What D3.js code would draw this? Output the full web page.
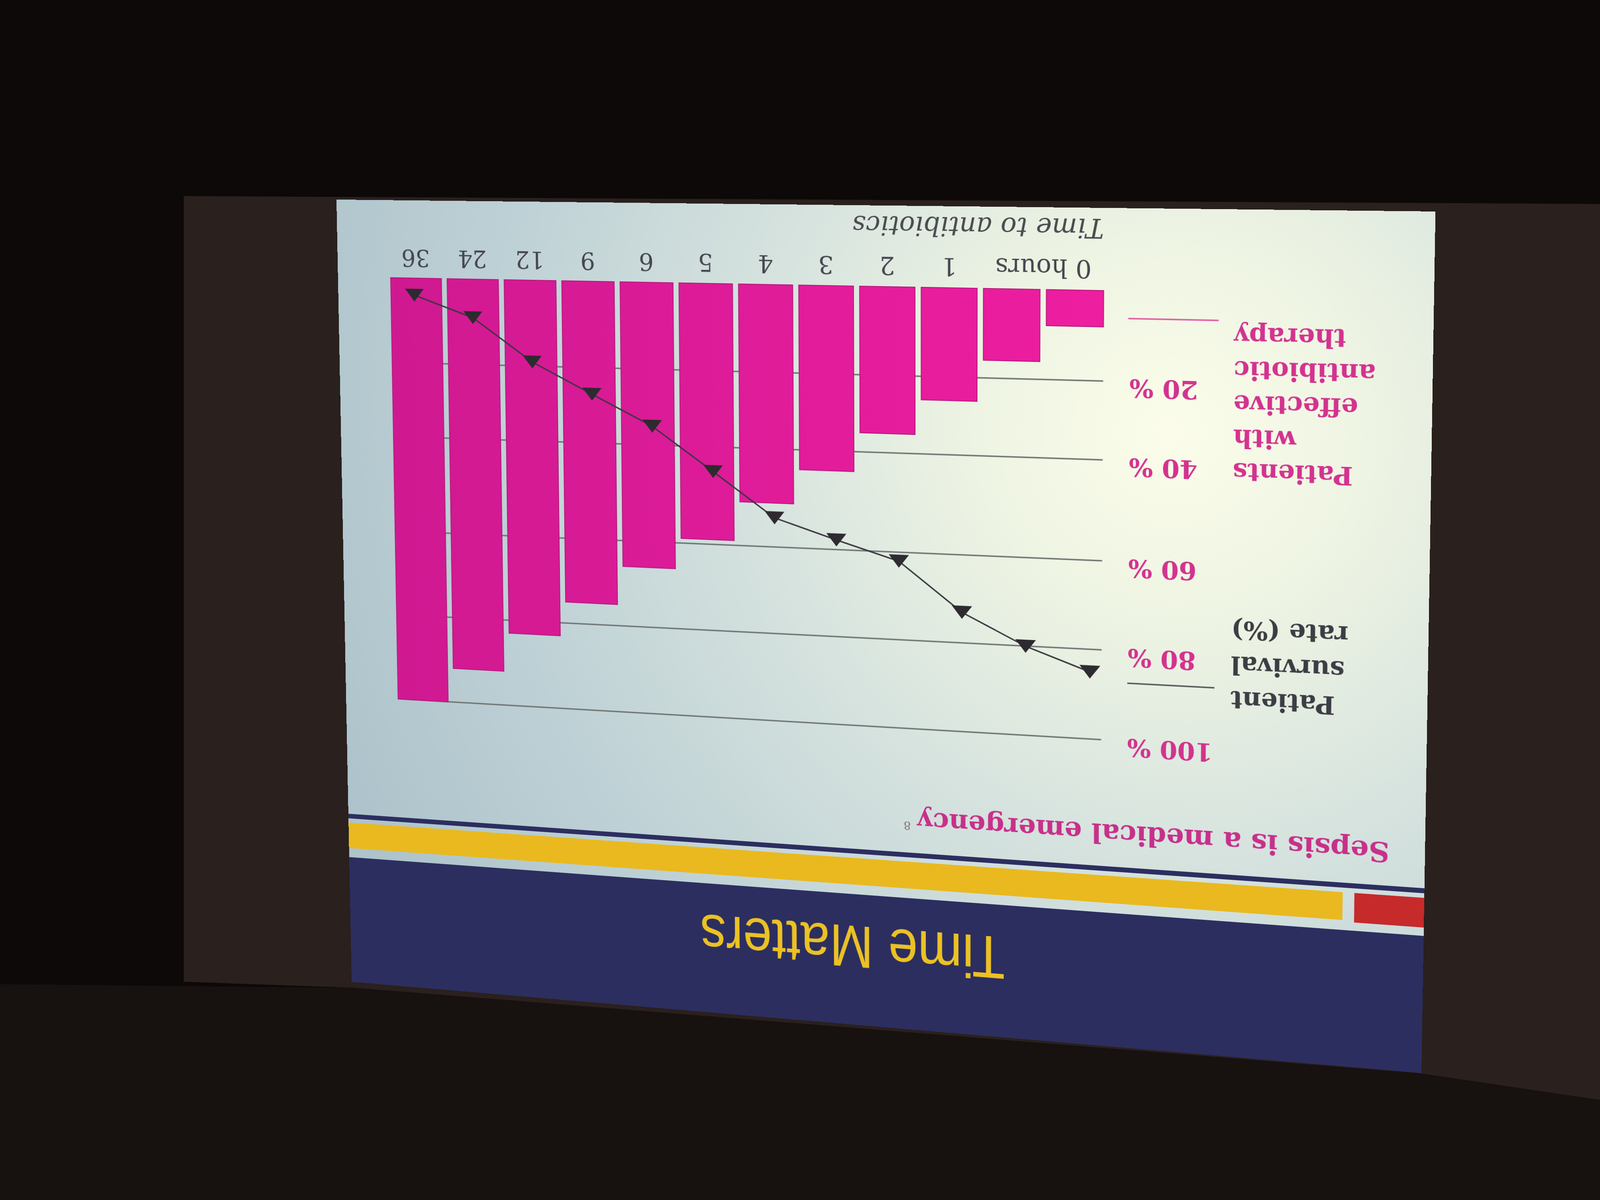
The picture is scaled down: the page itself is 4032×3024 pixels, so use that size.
<!DOCTYPE html>
<html>
<head>
<meta charset="utf-8">
<script src="https://cdn.jsdelivr.net/npm/d3@7"></script>
<style>
html,body{margin:0;padding:0;background:#0d0a09;width:4032px;height:3024px;overflow:hidden;}
#bg{position:absolute;left:0;top:0;}
#slideWrap{position:absolute;left:0;top:0;width:2700px;height:2025px;transform-origin:0 0;}
#slide{display:block;}
</style>
</head>
<body>
<svg id="bg" width="4032" height="3024"></svg>
<div id="slideWrap"><svg id="slide" width="2700" height="2025"></svg></div>
<script>
// ---------- data ----------
const timeBins = ["0-0.5", "0.5-1", "1-2", "2-3", "3-4", "4-5", "5-6", "6-9", "9-12", "12-24", "24-36", ">36"];
const tickLabels = ["0 hours", "", "1", "2", "3", "4", "5", "6", "9", "12", "24", "36"];
const effectiveTherapyPct = [8, 16, 26, 35, 44, 51, 59, 66, 75, 83, 92, 100];
const survivalPct = [85, 80, 73, 62, 58, 54, 45, 35, 27, 19, 9, 4];
const yTicks = [20, 40, 60, 80, 100];
const titleText = "Time Matters";
const subtitleText = "Sepsis is a medical emergency";
const subtitleRef = "8";
const xAxisTitle = "Time to antibiotics";
const therapyLegend = ["Patients", "with", "effective", "antibiotic", "therapy"];
const survivalLegend = ["Patient", "survival", "rate (%)"];

// ---------- photo surroundings ----------
const bg = d3.select("#bg");
bg.append("rect").attr("width", 4032).attr("height", 3024).attr("fill", "#0c0908");
bg.append("polygon")
  .attr("points", "463,494 4032,514 4032,2772 3579,2705 887,2489 463,2474")
  .attr("fill", "#2a201d");
bg.append("polygon")
  .attr("points", "0,2480 887,2489 3579,2705 4032,2772 4032,3024 0,3024")
  .attr("fill", "#171110");

// ---------- slide (drawn upright, then projected upside down) ----------
const W = 2700, H = 2025;
function quadMatrix(W, H, p) {
  const [x0, y0] = p[0], [x1, y1] = p[1], [x2, y2] = p[2], [x3, y3] = p[3];
  const dx1 = x1 - x2, dx2 = x3 - x2, dx3 = x0 - x1 + x2 - x3;
  const dy1 = y1 - y2, dy2 = y3 - y2, dy3 = y0 - y1 + y2 - y3;
  const den = dx1 * dy2 - dx2 * dy1;
  const g = (dx3 * dy2 - dx2 * dy3) / den, h = (dx1 * dy3 - dx3 * dy1) / den;
  const a = x1 - x0 + g * x1, c = x3 - x0 + h * x3, e = x0;
  const b = y1 - y0 + g * y1, d = y3 - y0 + h * y3, f = y0;
  return [a / W, b / W, 0, g / W, c / H, d / H, 0, h / H, 0, 0, 1, 0, e, f, 0, 1];
}
const corners = [[3582, 2704], [886, 2474], [848, 503], [3618, 533]];
d3.select("#slideWrap").style("transform", "matrix3d(" + quadMatrix(W, H, corners).join(",") + ")");

const S = d3.select("#slide");
const defs = S.append("defs");
const rg = defs.append("radialGradient").attr("id", "glow")
  .attr("gradientUnits", "userSpaceOnUse").attr("cx", 600).attr("cy", 1500).attr("r", 2300);
[[0, "#fbfde9"], [0.2, "#eef4e3"], [0.45, "#d5e2de"], [0.75, "#bdd0d5"], [1, "#aec3cb"]]
  .forEach(([o, c]) => rg.append("stop").attr("offset", o).attr("stop-color", c));
const bg2 = defs.append("linearGradient").attr("id", "barFill")
  .attr("gradientUnits", "userSpaceOnUse").attr("x1", 750).attr("x2", 2560).attr("y1", 0).attr("y2", 0);
[[0, "#ee1ea0"], [1, "#cf1991"]]
  .forEach(([o, c]) => bg2.append("stop").attr("offset", o).attr("stop-color", c));
S.append("rect").attr("width", W).attr("height", H).attr("fill", "url(#glow)");

// header
S.append("rect").attr("x", 0).attr("y", 0).attr("width", W).attr("height", 330).attr("fill", "#2c2e5f");
S.append("text").attr("x", 1375).attr("y", 250).attr("text-anchor", "middle")
  .attr("font-family", "'Liberation Sans Narrow','Arial Narrow','Liberation Sans',Arial,sans-serif")
  .attr("font-size", 150).attr("fill", "#ebc124")
  .attr("textLength", 770).attr("lengthAdjust", "spacingAndGlyphs")
  .text(titleText);
S.append("rect").attr("x", 0).attr("y", 350).attr("width", 160).attr("height", 71).attr("fill", "#c62a2b");
S.append("rect").attr("x", 187).attr("y", 354).attr("width", W - 187).attr("height", 67).attr("fill", "#e9b91f");
S.append("rect").attr("x", 0).attr("y", 432).attr("width", W).attr("height", 12).attr("fill", "#2c2e5f");

const serif = "'DejaVu Serif','Liberation Serif',Georgia,serif";
const sub = S.append("text").attr("x", 81).attr("y", 547)
  .attr("font-family", serif).attr("font-weight", "bold").attr("font-size", 66).attr("fill", "#c8308a");
sub.append("tspan").text(subtitleText);
sub.append("tspan").attr("dx", 16).attr("dy", -26).attr("font-size", 28).attr("font-weight", "normal")
  .attr("fill", "#8a6a80").text(subtitleRef);

// ---------- chart ----------
const x = d3.scaleBand().domain(timeBins).range([751, 2565]).paddingInner(0.1).paddingOuter(0.05);
// the slide's value axis is drawn with uneven gridline spacing; a piecewise scale follows it
const y = d3.scaleLinear().domain([0, 20, 40, 60, 80, 100]).range([1830, 1615, 1427, 1185, 970, 752]);
const plotL = x(timeBins[0]), plotR = x(timeBins[timeBins.length - 1]) + x.bandwidth();
// the survival series sits on its own category axis, slightly offset from the bar centres
const xLine = d3.scalePoint().domain(timeBins)
  .range([plotL + x.bandwidth() / 2 - 40, plotR - x.bandwidth() / 2 + 5]);

// gridlines
const grid = S.append("g").attr("transform", `translate(${plotL},0)`)
  .call(d3.axisLeft(y).tickValues(yTicks).tickSize(-(plotR - plotL)).tickFormat(""));
grid.select(".domain").remove();
grid.selectAll(".tick line").attr("stroke", "#6f7573").attr("stroke-width", 3.5);

// y labels
const yAx = S.append("g").attr("transform", `translate(${plotL},0)`)
  .call(d3.axisLeft(y).tickValues(yTicks).tickSize(0).tickPadding(62).tickFormat(d => d + " %"));
yAx.select(".domain").remove();
yAx.selectAll("text").attr("font-family", serif).attr("font-weight", "bold")
  .attr("font-size", 60).attr("fill", "#d3338f").attr("y", -14);

// bars
S.append("g").selectAll("rect").data(effectiveTherapyPct).join("rect")
  .attr("x", (d, i) => x(timeBins[i]))
  .attr("y", d => y(d))
  .attr("width", x.bandwidth())
  .attr("height", d => y(0) - y(d))
  .attr("fill", "url(#barFill)").attr("stroke", "#b3157a").attr("stroke-width", 2);

// survival line
S.append("path").datum(survivalPct)
  .attr("d", d3.line().x((d, i) => xLine(timeBins[i])).y(d => y(d)))
  .attr("fill", "none").attr("stroke", "#3a3640").attr("stroke-width", 3.5);
const tw = 50, th = 32;
S.append("g").selectAll("path").data(survivalPct).join("path")
  .attr("transform", (d, i) => `translate(${xLine(timeBins[i])},${y(d)})`)
  .attr("d", `M0,${-th / 2}L${tw / 2},${th / 2}L${-tw / 2},${th / 2}Z`)
  .attr("fill", "#2d2a30");

// x axis labels
const xAx = S.append("g").attr("transform", "translate(0,1902)")
  .call(d3.axisBottom(x).tickSize(0).tickFormat((d, i) => tickLabels[i]));
xAx.select(".domain").remove();
xAx.selectAll("text").attr("font-family", serif).attr("font-size", 60)
  .attr("fill", "#46464f").attr("y", 0).attr("dy", 0);
xAx.selectAll(".tick").filter((d, i) => i === 0).select("text").attr("x", x.step() / 2);

S.append("text").attr("x", plotL).attr("y", 1999)
  .attr("font-family", serif).attr("font-style", "italic").attr("font-size", 64)
  .attr("fill", "#4b4b50").text(xAxisTitle);

// legend: effective antibiotic therapy
S.append("g").selectAll("text").data(therapyLegend).join("text")
  .attr("x", 453).attr("y", (d, i) => 1430 + i * 80).attr("text-anchor", "end")
  .attr("font-family", serif).attr("font-weight", "bold").attr("font-size", 60)
  .attr("fill", "#d3338f").text(d => d);
S.append("line").attr("x1", 489).attr("x2", 700).attr("y1", 1765).attr("y2", 1765)
  .attr("stroke", "#e05aa5").attr("stroke-width", 3.5);

// legend: survival rate
S.append("g").selectAll("text").data(survivalLegend).join("text")
  .attr("x", 453).attr("y", (d, i) => 887 + i * 84).attr("text-anchor", "end")
  .attr("font-family", serif).attr("font-weight", "bold").attr("font-size", 60)
  .attr("fill", "#3d3d45").text(d => d);
S.append("line").attr("x1", 491).attr("x2", 697).attr("y1", 893).attr("y2", 893)
  .attr("stroke", "#55585a").attr("stroke-width", 3.5);
</script>
</body>
</html>
